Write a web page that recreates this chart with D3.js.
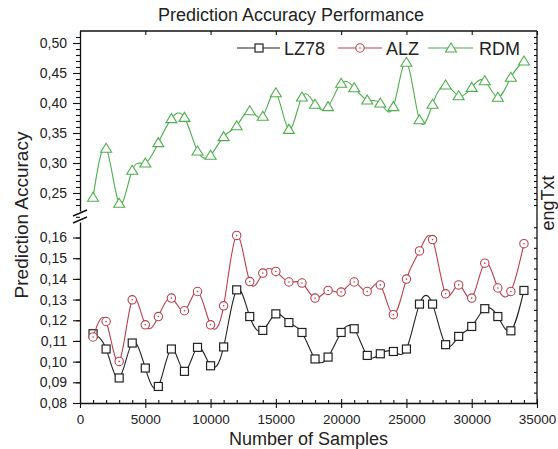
<!DOCTYPE html>
<html>
<head>
<meta charset="utf-8">
<script src="https://cdn.jsdelivr.net/npm/d3@7"></script>
<style>
  html, body { margin: 0; padding: 0; background: #fff; }
  svg { display: block; }
  text { font-family: "Liberation Sans", Arial, sans-serif; fill: #222; }
</style>
</head>
<body>
<svg id="chart" width="558" height="449"></svg>
<script>
// ---- data ----
const samples = [1000,2000,3000,4000,5000,6000,7000,8000,9000,10000,11000,12000,13000,14000,15000,16000,17000,
  18000,19000,20000,21000,22000,23000,24000,25000,26000,27000,28000,29000,30000,31000,32000,33000,34000];
const lz78 = [0.1135,0.1061,0.0921,0.1090,0.0969,0.0880,0.1061,0.0953,0.1069,0.0980,0.1071,0.1347,0.1218,0.1151,
  0.1231,0.1189,0.1141,0.1013,0.1022,0.1141,0.1159,0.1030,0.1038,0.1049,0.1061,0.1278,0.1278,0.1082,0.1122,0.1170,
  0.1256,0.1218,0.1149,0.1344];
const alz = [0.1119,0.1194,0.1001,0.1299,0.1178,0.1218,0.1307,0.1246,0.1339,0.1178,0.1270,0.1610,0.1387,0.1428,
  0.1436,0.1385,0.1380,0.1307,0.1344,0.1336,0.1385,0.1339,0.1371,0.1227,0.1399,0.1535,0.1590,0.1328,0.1371,0.1307,
  0.1476,0.1356,0.1339,0.1570];
const rdm = [0.243,0.3245,0.233,0.288,0.300,0.334,0.374,0.376,0.320,0.313,0.344,0.362,0.387,0.378,0.417,0.356,
  0.410,0.398,0.394,0.433,0.4255,0.405,0.400,0.394,0.468,0.372,0.398,0.430,0.412,0.426,0.437,0.4095,0.443,0.470];
const seriesNames = ["LZ78", "ALZ", "RDM"];
const xMajorTicks = [0,5000,10000,15000,20000,25000,30000,35000];
const yUpperTicks = [0.25,0.30,0.35,0.40,0.45,0.50];
const yLowerTicks = [0.08,0.09,0.10,0.11,0.12,0.13,0.14,0.15,0.16];
const titleText = "Prediction Accuracy Performance";
const xTitle = "Number of Samples";
const yTitle = "Prediction Accuracy";
const rightText = "engTxt";

// ---- layout ----
const L = 80, R = 537, T = 31, B = 403;
const upperBottom = 211, lowerTop = 222;
const colors = { LZ78: "#222222", ALZ: "#b8404f", RDM: "#4cae4c" };

const svg = d3.select("#chart");
const x = d3.scaleLinear().domain([0, 35000]).range([L, R]);
const yU = d3.scaleLinear().domain([0.22, 0.52]).range([upperBottom, T]);
const yL = d3.scaleLinear().domain([0.08, 0.1675]).range([B, lowerTop]);
const fmtY = d => d3.format(".2f")(d).replace(".", ",");

// frame lines (top, right)
svg.append("line").attr("x1", L).attr("x2", R).attr("y1", T).attr("y2", T).attr("stroke", "#111").attr("stroke-width", 1.3);
svg.append("line").attr("x1", R).attr("x2", R).attr("y1", T).attr("y2", B).attr("stroke", "#111").attr("stroke-width", 1.3);

function styleAxis(g, fs) {
  g.selectAll("path.domain").attr("stroke", "#111").attr("stroke-width", 1.3);
  g.selectAll(".tick line").attr("stroke", "#111").attr("stroke-width", 1.1);
  g.selectAll(".tick text").style("font-size", (fs || 14) + "px").style("font-family", '"Liberation Sans", Arial, sans-serif').attr("fill", "#333");
}

// minor tick helpers
const range = (a, b, s) => d3.range(Math.round(a / s), Math.round(b / s) + 1).map(i => +(i * s).toFixed(4));

// left upper axis
const gU = svg.append("g").attr("transform", `translate(${L},0)`);
gU.call(d3.axisLeft(yU).tickValues(yUpperTicks).tickFormat(fmtY).tickSize(7).tickSizeOuter(0).tickPadding(6));
styleAxis(gU);
const gUm = svg.append("g").attr("transform", `translate(${L},0)`);
gUm.call(d3.axisLeft(yU).tickValues(range(0.23, 0.51, 0.01).filter(v => !yUpperTicks.some(t => Math.abs(t - v) < 1e-6))).tickFormat("").tickSize(4).tickSizeOuter(0));
gUm.select("path.domain").remove();
styleAxis(gUm);

// left lower axis
const gLo = svg.append("g").attr("transform", `translate(${L},0)`);
gLo.call(d3.axisLeft(yL).tickValues(yLowerTicks).tickFormat(fmtY).tickSize(7).tickSizeOuter(0).tickPadding(6));
styleAxis(gLo);
const gLm = svg.append("g").attr("transform", `translate(${L},0)`);
gLm.call(d3.axisLeft(yL).tickValues(range(0.085, 0.165, 0.01)).tickFormat("").tickSize(4).tickSizeOuter(0));
gLm.select("path.domain").remove();
styleAxis(gLm);

// right axis ticks (inward)
const gRU = svg.append("g").attr("transform", `translate(${R},0)`);
gRU.call(d3.axisLeft(yU).tickValues(range(0.23, 0.51, 0.01)).tickFormat("").tickSize(3).tickSizeOuter(0));
gRU.select("path.domain").remove();
styleAxis(gRU);
const gRL = svg.append("g").attr("transform", `translate(${R},0)`);
gRL.call(d3.axisLeft(yL).tickValues(range(0.085, 0.165, 0.005)).tickFormat("").tickSize(3).tickSizeOuter(0));
gRL.select("path.domain").remove();
styleAxis(gRL);

// axis break marks
const brk = svg.append("g").attr("stroke", "#111").attr("stroke-width", 1.4);
brk.append("line").attr("x1", L - 7).attr("y1", upperBottom + 5).attr("x2", L + 7).attr("y2", upperBottom - 1);
brk.append("line").attr("x1", L - 7).attr("y1", lowerTop + 1).attr("x2", L + 7).attr("y2", lowerTop - 5);

// bottom axis
const gX = svg.append("g").attr("transform", `translate(0,${B})`);
gX.call(d3.axisBottom(x).tickValues(xMajorTicks).tickFormat(d3.format("d")).tickSize(5).tickSizeOuter(0).tickPadding(6));
styleAxis(gX, 13.5);
gX.selectAll(".tick line").attr("y1", -4);
const gXm = svg.append("g").attr("transform", `translate(0,${B})`);
gXm.call(d3.axisBottom(x).tickValues(range(1000, 34000, 1000).filter(v => v % 5000 !== 0)).tickFormat("").tickSize(-3).tickSizeOuter(0));
gXm.select("path.domain").remove();
styleAxis(gXm);
// top ticks (inward)
const gT = svg.append("g").attr("transform", `translate(0,${T})`);
gT.call(d3.axisBottom(x).tickValues(xMajorTicks).tickFormat("").tickSize(4).tickSizeOuter(0));
gT.select("path.domain").remove();
styleAxis(gT);

// titles
svg.append("text").attr("x", 291).attr("y", 21).attr("text-anchor", "middle").style("font-size", "18px").text(titleText);
svg.append("text").attr("x", 308.5).attr("y", 445).attr("text-anchor", "middle").style("font-size", "18px").text(xTitle);
svg.append("text").attr("transform", "translate(28,215) rotate(-90)").attr("text-anchor", "middle").style("font-size", "19px").text(yTitle);
svg.append("text").attr("transform", "translate(554,203) rotate(-90)").attr("text-anchor", "middle").style("font-size", "18px").text(rightText);

// series
const series = [
  { name: "LZ78", values: lz78, y: yL, marker: "square" },
  { name: "ALZ", values: alz, y: yL, marker: "circle" },
  { name: "RDM", values: rdm, y: yU, marker: "triangle" }
];

function drawMarker(g, type, cx, cy, color) {
  if (type === "square") {
    g.append("rect").attr("x", cx - 4).attr("y", cy - 4).attr("width", 8).attr("height", 8)
      .attr("fill", "#fff").attr("stroke", color).attr("stroke-width", 1.2);
  } else if (type === "circle") {
    g.append("circle").attr("cx", cx).attr("cy", cy).attr("r", 4.2)
      .attr("fill", "#fff").attr("stroke", color).attr("stroke-width", 1.1);
    g.append("circle").attr("cx", cx).attr("cy", cy).attr("r", 0.8).attr("fill", color);
  } else {
    const p = [[cx, cy - 5], [cx - 5.5, cy + 4], [cx + 5.5, cy + 4]];
    g.append("path").attr("d", "M" + p.join("L") + "Z")
      .attr("fill", "#fff").attr("stroke", color).attr("stroke-width", 1.1);
  }
}

series.forEach(s => {
  const col = colors[s.name];
  const line = d3.line().x((d, i) => x(samples[i])).y(d => s.y(d)).curve(d3.curveNatural);
  svg.append("path").datum(s.values).attr("d", line).attr("fill", "none").attr("stroke", col).attr("stroke-width", 1.1);
  const mg = svg.append("g");
  s.values.forEach((v, i) => drawMarker(mg, s.marker, x(samples[i]), s.y(v), col));
});

// legend
const legendItems = [
  { name: "LZ78", marker: "square", x1: 237, x2: 280, mx: 259, tx: 284 },
  { name: "ALZ", marker: "circle", x1: 338, x2: 382, mx: 360, tx: 386 },
  { name: "RDM", marker: "triangle", x1: 428, x2: 473, mx: 451, tx: 479 }
];
const lg = svg.append("g");
legendItems.forEach(it => {
  const col = colors[it.name];
  lg.append("line").attr("x1", it.x1).attr("x2", it.x2).attr("y1", 48).attr("y2", 48).attr("stroke", col).attr("stroke-width", 1.2);
  drawMarker(lg, it.marker, it.mx, 48, col);
  lg.append("text").attr("x", it.tx).attr("y", 55).style("font-size", "18px").text(it.name);
});
</script>
</body>
</html>
